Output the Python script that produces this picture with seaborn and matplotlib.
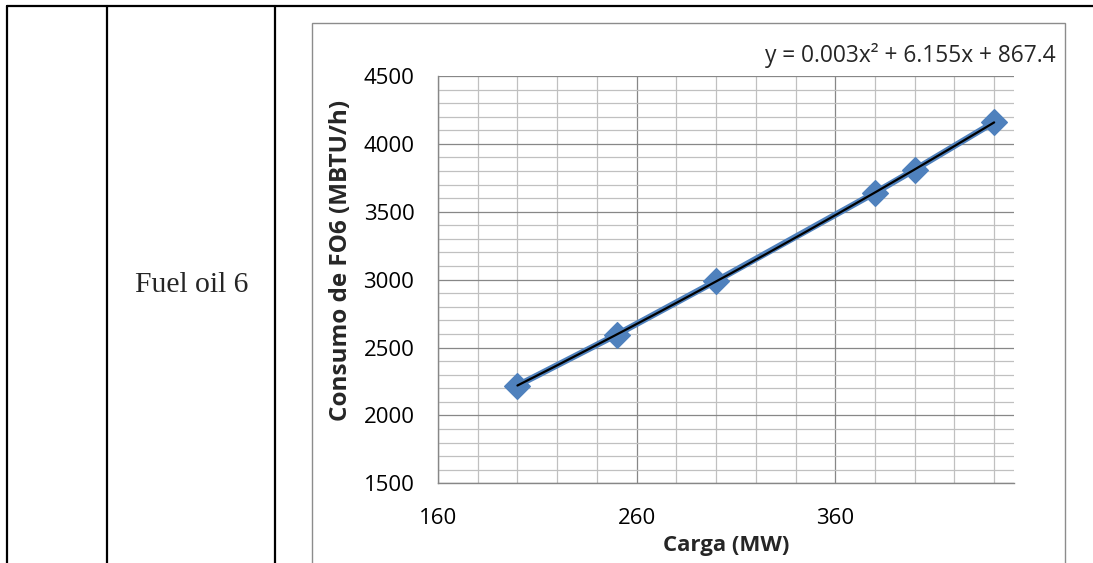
import numpy as np
import matplotlib
matplotlib.use('Agg')
import matplotlib.pyplot as plt
from matplotlib.patches import Rectangle
from matplotlib.lines import Line2D
import seaborn as sns

# Datos
carga = [200, 250, 300, 380, 400, 440]
consumo = [2220, 2595, 2990, 3640, 3810, 4160]
ecuacion = 'y = 0.003x² + 6.155x + 867.4'
etiqueta_fila = 'Fuel oil 6'
x_label = 'Carga (MW)'
y_label = 'Consumo de FO6 (MBTU/h)'
x_ticks = [160, 260, 360]
y_ticks = [1500, 2000, 2500, 3000, 3500, 4000, 4500]

sns.set_style('white')
plt.rcParams['font.family'] = ['Open Sans', 'DejaVu Sans']

W, H = 1093, 563
fig = plt.figure(figsize=(W / 100, H / 100), dpi=100)


def fx(px):
    return px / W


def fy(py):
    return 1 - py / H


# Tabla alrededor del gráfico
for xv in [7, 107, 275]:
    fig.add_artist(Line2D([fx(xv), fx(xv)], [fy(6), 0], color='black', lw=1.6))
fig.add_artist(Line2D([fx(7), 1], [fy(6), fy(6)], color='black', lw=1.6))
fig.text(fx(192), fy(285), etiqueta_fila, family='Liberation Serif', fontsize=21.3,
         ha='center', va='center')

# Marco del gráfico
fig.add_artist(Rectangle((fx(312), -0.01), fx(1065) - fx(312), fy(23) + 0.01,
                         fill=False, edgecolor='#8c8c8c', lw=1.0))

left, right, top, bottom = 438, 1014, 76, 483.3
ax = fig.add_axes([fx(left), fy(bottom), fx(right) - fx(left), fy(top) - fy(bottom)])

df_x = np.array(carga)
df_y = np.array(consumo)

sns.lineplot(x=df_x, y=df_y, ax=ax, color='#4f81bd', lw=4.5, zorder=3)
sns.scatterplot(x=df_x, y=df_y, ax=ax, marker='D', s=170, color='#4f81bd',
                edgecolor='#4f81bd', zorder=4)

# Línea de tendencia polinómica (orden 2)
coef = np.polyfit(df_x, df_y, 2)
xs = np.linspace(df_x.min(), df_x.max(), 200)
sns.lineplot(x=xs, y=np.polyval(coef, xs), ax=ax, color='black', lw=1.6, zorder=5)

ax.set_xlim(160, 450)
ax.set_ylim(1500, 4500)
ax.set_xticks(x_ticks)
ax.set_xticks(np.arange(180, 450, 20), minor=True)
ax.set_yticks(y_ticks)
ax.set_yticks(np.arange(1600, 4500, 100), minor=True)
ax.grid(which='major', color='#878787', lw=0.9)
ax.grid(which='minor', color='#c0c0c0', lw=0.9)
ax.set_axisbelow(True)
ax.tick_params(which='major', length=5, width=0.9, color='#878787',
               labelsize=16, labelcolor='black')
ax.tick_params(axis='y', pad=12)
ax.tick_params(axis='x', pad=13)
ax.tick_params(which='minor', length=0)
for s in ['top', 'right']:
    ax.spines[s].set_visible(False)
for s in ['left', 'bottom']:
    ax.spines[s].set_color('#878787')
    ax.spines[s].set_linewidth(1.0)
ax.set_xlabel('')
ax.set_ylabel('')

fig.text(fx(726), fy(545), x_label, fontsize=16, fontweight='bold',
         ha='center', va='center')
fig.text(fx(341), fy(260), y_label, fontsize=17.5, fontweight='bold',
         ha='center', va='center', rotation=90)
fig.text(fx(1056), fy(55), ecuacion, fontsize=16.4, ha='right', va='center')

fig.savefig('out.png', dpi=100)
